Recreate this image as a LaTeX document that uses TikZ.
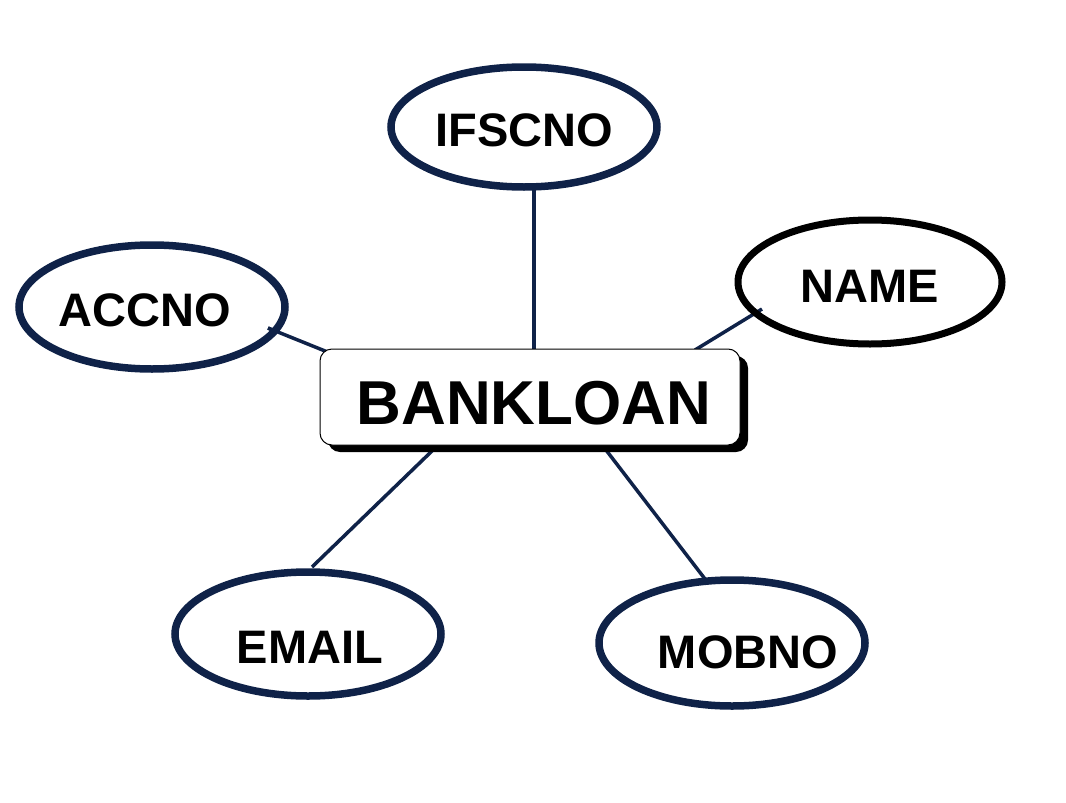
\documentclass[tikz,border=0pt]{standalone}
\usepackage{fontspec}
\setmainfont{Liberation Sans}
\definecolor{navy}{HTML}{0F2248}
\begin{document}
\begin{tikzpicture}[x=1pt,y=-1pt,
  ring/.style={draw=navy,line width=7.5pt},
  lbl/.style={font=\fontsize{47}{50}\bfseries\selectfont,inner sep=0pt},
  link/.style={draw=navy,line width=3.5pt}]
\useasboundingbox (0,0) rectangle (1066,803);
% connectors
\coordinate (iA) at (534,189); \coordinate (iB) at (534,352);
\coordinate (aA) at (268,328); \coordinate (aB) at (330,353);
\coordinate (nA) at (762,309); \coordinate (nB) at (695,350);
\coordinate (eA) at (433,450); \coordinate (eB) at (312,567);
\coordinate (mA) at (606,450); \coordinate (mB) at (705,579);
\draw[link] (iA) -- (iB);
\draw[link] (aA) -- (aB);
\draw[link] (nA) -- (nB);
\draw[link] (eA) -- (eB);
\draw[link] (mA) -- (mB);
% ellipses
\draw[ring] (524,127) ellipse [x radius=133, y radius=60];
\draw[ring,draw=black,line width=7pt] (870,282) ellipse [x radius=132, y radius=62];
\draw[ring] (152,307) ellipse [x radius=133, y radius=62];
\draw[ring] (308,634) ellipse [x radius=133, y radius=62];
\draw[ring] (732,643) ellipse [x radius=133, y radius=63];
\draw[link] (aA) -- ++(4,2);
% central box
\fill[black,rounded corners=12pt] (328,356) rectangle (748,452);
\draw[black,fill=white,line width=1pt,rounded corners=12pt] (320,349) rectangle (740,445);
\node[lbl,font=\fontsize{62}{66}\bfseries\selectfont] (bank) at (534,403) {BANKLOAN};
% labels
\node[lbl] (ifsc) at (524,130) {IFSCNO};
\node[lbl] (name) at (870,286) {NAME};
\node[lbl] (acc) at (145,310) {ACCNO};
\node[lbl] (email) at (310,647) {EMAIL};
\node[lbl] (mob) at (748,652) {MOBNO};
\end{tikzpicture}
\end{document}
